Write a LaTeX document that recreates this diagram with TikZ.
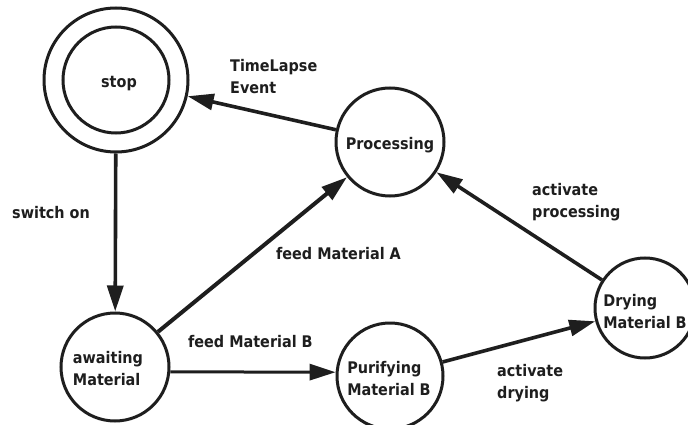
\documentclass[tikz,border=0pt]{standalone}
\usepackage{fontspec}
\setmainfont{DejaVu Sans}[FakeStretch=0.9]
\usetikzlibrary{arrows.meta}
\definecolor{ink}{HTML}{1E1E1E}
\tikzset{
  state/.style={circle, draw=ink, line width=3pt, inner sep=0pt},
  stext/.style={text=ink, font=\fontsize{16}{22}\selectfont\bfseries,
    align=left, inner sep=0pt},
  conn/.style={draw=ink, line width=3.6pt,
    -{Triangle[length=26pt,width=16pt]}},
  lbl/.style={text=ink, font=\fontsize{16}{22}\selectfont\bfseries,
    align=left, inner sep=0pt},
}
\begin{document}
\begin{tikzpicture}[x=1pt, y=-1pt]
  \useasboundingbox (0,0) rectangle (688,425);
  \clip (0,0) rectangle (688,425);
  \fill[white] (0,0) rectangle (688,425);

  % states
  \node[state, minimum size=144pt] (stop) at (116,80) {};
  \node[state, minimum size=106pt] (stopin) at (stop.center) {};
  \node[state, minimum size=108pt] (proc) at (390,142) {};
  \node[state, minimum size=108pt] (await) at (115,367) {};
  \node[state, minimum size=106pt] (purify) at (390,376) {};
  \node[state, minimum size=100pt] (dry) at (645,308) {};

  % state names
  \node[stext] (tStop) at ([shift={(3,4)}]stop.center) {stop};
  \node[stext] (tProc) at ([shift={(0,3)}]proc.center) {Processing};
  \node[stext] (tAwait) at ([shift={(-7,2)}]await.center) {awaiting\\Material};
  \node[stext] (tPurify) at ([shift={(-1,3)}]purify.center) {Purifying\\Material B};
  \node[stext] (tDry) at ([shift={(0,4)}]dry.center) {Drying\\Material B};

  % transitions
  \draw[conn] (stop) -- (await);
  \draw[conn] (proc) -- (stop);
  \draw[conn, line width=4pt] (await) -- (proc);
  \draw[conn, line width=3pt] (await.-5) -- (purify.176);
  \draw[conn] (purify) -- (dry);
  \draw[conn] (dry) -- (proc);

  % transition labels
  \node[lbl, anchor=north west] (lTime) at (230,59) {TimeLapse\\Event};
  \node[lbl, anchor=west] (lSwitch) at (12,213) {switch on};
  \node[lbl, anchor=west] (lFeedA) at (276,254) {feed Material A};
  \node[lbl, anchor=west] (lFeedB) at (188,342) {feed Material B};
  \node[lbl, anchor=north west] (lProc) at (532,183) {activate\\processing};
  \node[lbl, anchor=north west] (lDry) at (497,364) {activate\\drying};
\end{tikzpicture}
\end{document}
